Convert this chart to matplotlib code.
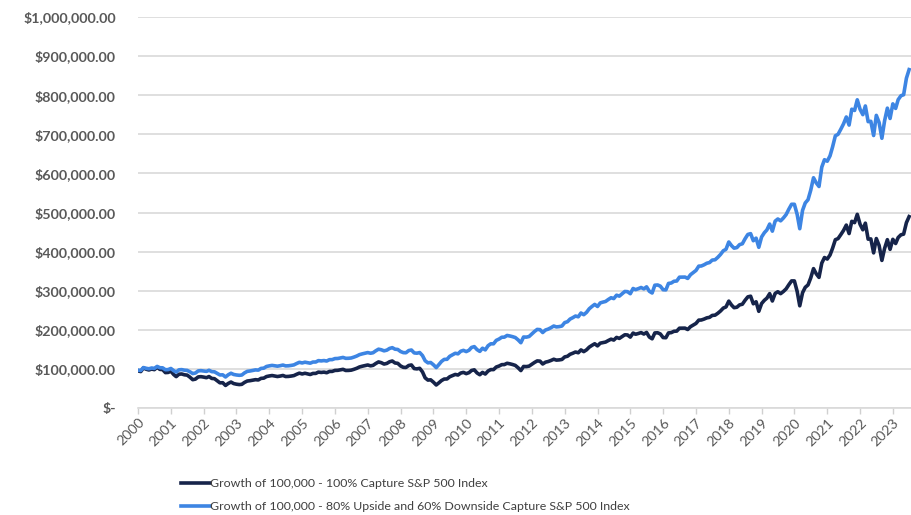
import numpy as np
import pandas as pd
import matplotlib
matplotlib.use("Agg")
import matplotlib.pyplot as plt
import matplotlib.dates as mdates
from matplotlib.ticker import FuncFormatter, MultipleLocator

# month-end values, in thousands of dollars, Jan 2000 .. Jul 2023
full_capture = [
    94.99, 93.18, 102.35, 99.24, 97.22, 99.64, 98.10, 104.16, 98.70, 98.25, 90.51, 90.94,
    94.21, 85.63, 80.20, 86.44, 87.02, 84.90, 84.09, 78.83, 72.45, 73.86, 79.44, 80.16,
    79.01, 77.51, 80.42, 75.62, 75.02, 69.71, 64.31, 64.68, 57.64, 62.74, 66.37, 62.49,
    60.88, 59.91, 60.50, 65.52, 68.98, 69.87, 71.05, 72.45, 71.70, 75.77, 76.39, 80.41,
    81.90, 83.03, 81.77, 80.51, 81.64, 83.22, 80.50, 80.77, 81.69, 82.91, 86.26, 89.18,
    87.04, 88.87, 87.31, 85.68, 88.40, 88.46, 91.80, 90.90, 91.72, 90.22, 93.50, 93.58,
    96.12, 96.35, 97.55, 98.92, 95.98, 96.13, 96.81, 99.01, 101.59, 104.94, 106.86, 108.32,
    110.02, 107.82, 109.06, 113.91, 117.85, 115.88, 112.36, 114.00, 118.28, 120.17, 115.09, 114.26,
    107.56, 104.03, 103.61, 108.75, 110.07, 100.86, 100.03, 101.49, 92.36, 77.01, 71.36, 72.06,
    66.06, 58.91, 64.08, 70.23, 74.07, 74.22, 79.86, 82.77, 85.86, 84.32, 89.37, 91.09,
    87.89, 90.49, 95.96, 97.60, 89.70, 85.07, 91.07, 86.84, 94.60, 98.24, 98.23, 104.79,
    107.31, 110.92, 111.03, 114.41, 113.01, 111.19, 108.94, 102.98, 95.73, 106.22, 105.90, 107.02,
    111.83, 116.65, 120.46, 119.83, 112.52, 117.20, 118.89, 121.54, 124.71, 122.44, 123.03, 124.14,
    130.63, 132.34, 137.29, 140.08, 143.23, 141.30, 148.59, 144.19, 148.78, 155.68, 160.30, 164.32,
    158.82, 165.85, 167.29, 168.65, 172.51, 176.03, 173.72, 180.50, 178.01, 182.46, 187.30, 186.79,
    181.32, 191.64, 188.61, 190.59, 192.84, 189.16, 193.25, 181.46, 177.00, 191.97, 192.41, 189.43,
    180.15, 179.74, 191.98, 192.81, 196.15, 196.70, 204.10, 204.20, 204.30, 200.72, 207.99, 212.15,
    216.31, 224.75, 225.04, 227.43, 230.48, 231.91, 236.80, 237.39, 242.30, 248.09, 255.53, 258.47,
    273.41, 263.21, 256.58, 257.68, 263.66, 265.37, 275.37, 284.24, 285.89, 266.54, 271.71, 247.26,
    267.11, 275.47, 280.90, 292.47, 273.69, 293.04, 297.32, 292.44, 298.03, 304.65, 315.49, 325.05,
    325.05, 298.14, 261.35, 294.80, 308.63, 314.77, 332.62, 356.43, 343.03, 334.08, 370.56, 384.83,
    380.98, 391.38, 408.48, 430.37, 433.25, 443.48, 454.03, 467.79, 446.13, 477.40, 474.06, 495.30,
    470.00, 455.85, 472.72, 431.83, 432.43, 396.71, 433.41, 415.64, 377.44, 408.05, 430.53, 405.77,
    431.37, 420.63, 435.94, 442.92, 444.69, 474.04, 489.49,
]

asym_capture = [
    96.99, 95.88, 103.43, 101.54, 100.30, 102.30, 101.35, 106.36, 103.02, 102.74, 97.88, 98.26,
    101.09, 95.56, 91.93, 97.65, 98.17, 96.73, 96.18, 92.57, 88.08, 89.45, 94.86, 95.54,
    94.72, 93.64, 96.45, 92.99, 92.55, 88.62, 84.50, 84.89, 79.34, 84.96, 88.89, 85.77,
    84.45, 83.64, 84.30, 89.89, 93.69, 94.66, 95.94, 97.45, 96.84, 101.24, 101.90, 106.19,
    107.76, 108.95, 107.96, 106.96, 108.17, 109.84, 107.69, 107.97, 108.95, 110.25, 113.81, 116.89,
    115.21, 117.15, 115.92, 114.62, 117.54, 117.61, 121.16, 120.45, 121.32, 120.13, 123.63, 123.71,
    126.40, 126.64, 127.91, 129.34, 127.04, 127.20, 127.92, 130.24, 132.96, 136.47, 138.47, 139.99,
    141.75, 140.05, 141.34, 146.37, 150.42, 148.91, 146.19, 147.90, 152.34, 154.29, 150.37, 149.72,
    144.46, 141.62, 141.28, 146.89, 148.31, 140.86, 140.17, 141.81, 134.15, 120.77, 115.46, 116.37,
    110.55, 103.37, 110.62, 119.12, 124.33, 124.53, 132.10, 135.96, 140.02, 138.52, 145.16, 147.40,
    144.30, 147.72, 154.87, 156.99, 149.37, 144.75, 152.91, 148.65, 159.28, 164.19, 164.18, 172.95,
    176.27, 181.01, 181.15, 185.56, 184.20, 182.42, 180.21, 174.30, 166.94, 181.58, 181.25, 182.79,
    189.36, 195.89, 201.01, 200.38, 193.05, 199.47, 201.77, 205.37, 209.66, 207.37, 208.17, 209.67,
    218.44, 220.73, 227.33, 231.02, 235.18, 233.28, 242.91, 238.60, 244.67, 253.75, 259.78, 264.99,
    259.66, 268.86, 270.73, 272.49, 277.48, 282.01, 279.79, 288.52, 286.13, 291.85, 298.04, 297.56,
    292.33, 305.64, 302.74, 305.28, 308.16, 304.63, 309.89, 298.55, 294.14, 314.05, 314.63, 311.70,
    302.54, 302.12, 318.58, 319.68, 324.10, 324.83, 334.60, 334.73, 334.86, 331.34, 340.94, 346.39,
    351.82, 362.80, 363.18, 366.26, 370.19, 372.03, 378.31, 379.07, 385.35, 392.72, 402.14, 405.84,
    424.61, 415.11, 408.83, 410.24, 417.85, 420.02, 432.69, 443.84, 445.90, 427.79, 434.43, 410.97,
    437.37, 448.32, 455.39, 470.40, 452.28, 477.86, 483.44, 478.68, 486.00, 494.63, 508.72, 521.05,
    521.05, 495.16, 458.50, 505.45, 524.41, 532.76, 556.93, 588.83, 575.55, 566.54, 616.03, 635.00,
    631.19, 644.98, 667.53, 696.15, 699.88, 713.09, 726.67, 744.28, 723.60, 764.18, 760.97, 788.24,
    764.07, 750.27, 772.48, 732.39, 733.21, 696.87, 748.44, 730.03, 689.78, 734.53, 766.91, 740.45,
    777.83, 766.21, 788.52, 798.61, 801.17, 843.47, 865.47,
]

labels = [
    "Growth of 100,000 - 100% Capture S&P 500 Index",
    "Growth of 100,000 - 80% Upside and 60% Downside Capture S&P 500 Index",
]
colors = ["#16244a", "#3d85e3"]

dates = pd.date_range("2000-01-01", periods=len(full_capture), freq="MS")

plt.rcParams["font.family"] = ["Lato", "DejaVu Sans"]

fig = plt.figure(figsize=(9.11, 5.15), dpi=100)
ax = fig.add_axes([138 / 911, 1 - 408 / 515, 1 - 138 / 911, (408 - 17) / 515])

ax.plot(dates, np.array(full_capture) * 1000, color=colors[0], lw=2.6,
        label=labels[0], solid_joinstyle="round")
ax.plot(dates, np.array(asym_capture) * 1000, color=colors[1], lw=2.6,
        label=labels[1], solid_joinstyle="round")

ax.set_ylim(0, 1_000_000)
ax.set_xlim(pd.Timestamp("2000-01-01"), pd.Timestamp("2023-07-22"))
ax.yaxis.set_major_locator(MultipleLocator(100_000))
ax.yaxis.set_major_formatter(FuncFormatter(
    lambda v, p: "$-" if v == 0 else f"${v:,.2f}"))
ax.xaxis.set_major_locator(mdates.YearLocator())
ax.xaxis.set_major_formatter(mdates.DateFormatter("%Y"))

ax.grid(axis="y", color="#d9d9d9", lw=1.2)
ax.set_axisbelow(True)
for s in ["top", "right", "left"]:
    ax.spines[s].set_visible(False)
ax.spines["bottom"].set_color("#d9d9d9")
ax.spines["bottom"].set_linewidth(1.2)

ax.tick_params(axis="y", length=0, pad=16, labelsize=10.3, labelcolor="#595959")
ax.tick_params(axis="x", length=4, color="#d0d0d0", width=1, pad=2,
               labelsize=10.3, labelcolor="#595959")
for t in ax.get_yticklabels():
    t.set_fontweight("bold")
for t in ax.get_xticklabels():
    t.set_rotation(45)
    t.set_ha("right")
    t.set_rotation_mode("anchor")

fig.legend(loc="upper left", bbox_to_anchor=(175 / 911, 1 - 472 / 515),
           frameon=False, fontsize=8.9, labelcolor="#404040",
           handlelength=2.3, handletextpad=0.05, labelspacing=0.95,
           borderpad=0)

fig.savefig("out.png", dpi=100)
